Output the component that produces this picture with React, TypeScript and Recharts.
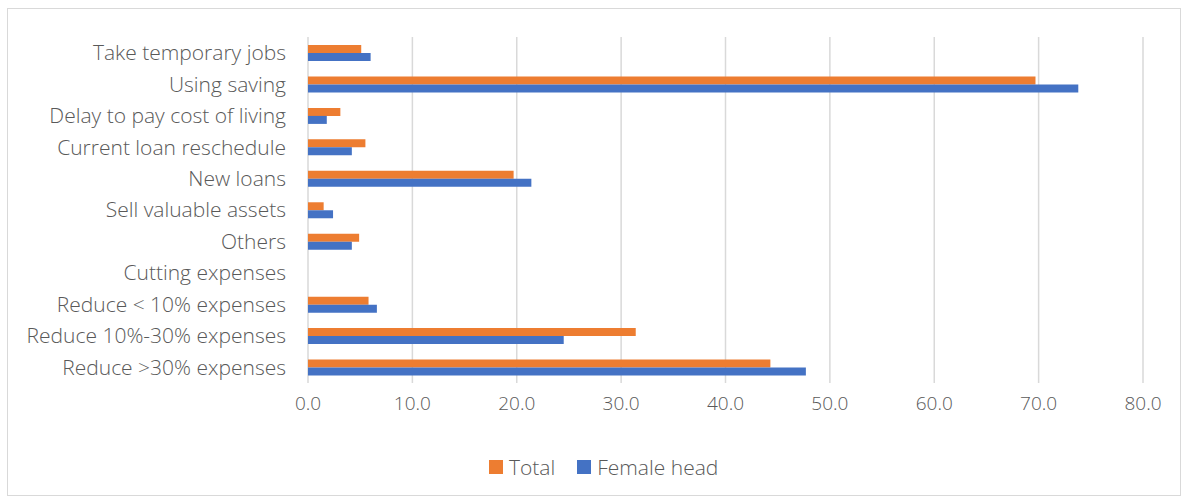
import { BarChart, Bar, XAxis, YAxis, CartesianGrid } from "recharts"

const categories = [
  "Take temporary jobs",
  "Using saving",
  "Delay to pay cost of living",
  "Current loan reschedule",
  "New loans",
  "Sell valuable assets",
  "Others",
  "Cutting expenses",
  "Reduce < 10% expenses",
  "Reduce 10%-30% expenses",
  "Reduce >30% expenses",
]
const totalValues = [5.1, 69.7, 3.1, 5.5, 19.7, 1.5, 4.9, null, 5.8, 31.4, 44.3]
const femaleHeadValues = [6.0, 73.8, 1.8, 4.2, 21.4, 2.4, 4.2, null, 6.6, 24.5, 47.7]
const xTicks = [0, 10, 20, 30, 40, 50, 60, 70, 80]

const series = [
  { key: "total", name: "Total", color: "#ed7d31" },
  { key: "female", name: "Female head", color: "#4472c4" },
]

const data = categories.map((name, i) => ({
  name,
  total: totalValues[i],
  female: femaleHeadValues[i],
}))

const FONT = "'Open Sans', sans-serif"
const TEXT = "#595959"

export default function App() {
  return (
    <div style={{ position: "absolute", left: 0, top: 0, width: 1186, height: 502, background: "#fff" }}>
      <div
        style={{
          position: "absolute",
          left: 7,
          top: 8,
          width: 1172,
          height: 486,
          border: "1px solid #d9d9d9",
        }}
      />
      <BarChart
        width={1186}
        height={502}
        data={data}
        layout="vertical"
        margin={{ top: 37, right: 43, left: 0, bottom: 79 }}
        barGap={0}
      >
        <CartesianGrid horizontal={false} stroke="#d9d9d9" strokeWidth={1.5} />
        <XAxis
          type="number"
          domain={[0, 80]}
          ticks={xTicks}
          tickFormatter={(v: number) => v.toFixed(1)}
          axisLine={false}
          tickLine={false}
          tickSize={0}
          tickMargin={14}
          height={40}
          tick={{ fill: TEXT, fontSize: 19, fontFamily: FONT, fontWeight: 300 }}
        />
        <YAxis
          type="category"
          dataKey="name"
          width={308}
          axisLine={false}
          tickLine={false}
          tickSize={0}
          tickMargin={22}
          interval={0}
          tick={{ fill: TEXT, fontSize: 21, fontFamily: FONT, fontWeight: 300 }}
        />
        {series.map((s) => (
          <Bar key={s.key} dataKey={s.key} name={s.name} fill={s.color} barSize={8} isAnimationActive={false} />
        ))}
      </BarChart>
      <div
        style={{
          position: "absolute",
          left: 489,
          top: 453,
          display: "flex",
          fontFamily: FONT,
          fontSize: 21,
          fontWeight: 300,
          color: TEXT,
          lineHeight: "28px",
        }}
      >
        {series.map((s) => (
          <span key={s.key} style={{ display: "flex", alignItems: "center", marginRight: 22 }}>
            <span style={{ width: 14, height: 14, background: s.color, marginRight: 6, display: "inline-block" }} />
            {s.name}
          </span>
        ))}
      </div>
    </div>
  )
}
